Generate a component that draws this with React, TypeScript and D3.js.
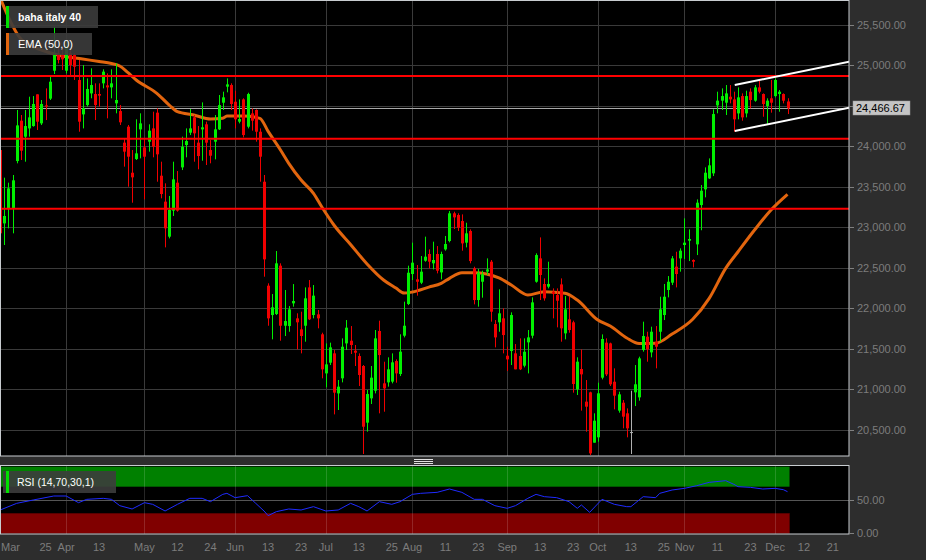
import React from 'react';
import * as d3 from 'd3';

// daily candles, trading-day index 0 = 10 Mar .. 191 = 6 Dec  [open, high, low, close]
const candles: number[][] = [
  [23951, 23972, 22779, 22923], [23046, 23610, 22779, 23137], [23231, 23548, 22985, 23478], [23231, 23643, 22923, 23577],
  [23815, 24445, 23787, 24255], [24313, 24383, 23828, 23943], [24116, 24445, 23807, 24247], [24218, 24609, 24116, 24354],
  [24247, 24617, 24239, 24519], [24638, 24638, 24198, 24301], [24280, 24568, 24260, 24519], [24502, 24712, 24321, 24486],
  [24585, 24856, 24568, 24794], [24930, 25473, 24889, 25123], [25144, 25226, 25020, 25062], [25123, 25226, 24938, 25070],
  [24930, 25308, 24897, 25226], [25144, 25206, 24877, 25000], [25123, 25144, 24815, 24979], [24815, 25062, 24177, 24301],
  [24391, 25000, 24218, 24465], [24506, 24835, 24486, 24704], [24650, 24959, 24589, 24753], [24642, 24774, 24321, 24506],
  [24642, 24774, 24486, 24622], [24774, 24947, 24712, 24918], [24749, 24897, 24342, 24724], [24724, 24947, 24589, 24774],
  [24527, 25020, 24404, 24568], [24432, 24506, 24260, 24293], [24042, 24095, 23746, 23931], [24239, 24260, 23499, 23869],
  [23671, 23951, 23301, 23614], [23840, 24330, 23828, 23910], [24206, 24404, 23848, 24280], [23984, 24095, 23342, 23869],
  [24054, 24268, 23931, 24190], [24218, 24424, 23861, 23992], [24412, 24465, 23560, 23898], [23634, 23807, 23355, 23408],
  [23314, 23540, 22750, 22985], [22882, 23384, 22861, 23211], [23203, 23807, 23137, 23589], [23548, 23692, 23190, 23203],
  [23737, 24116, 23704, 23992], [24013, 24218, 23861, 24062], [24165, 24457, 24136, 24218], [24354, 24383, 23807, 24157],
  [24042, 24247, 23713, 23877], [24206, 24539, 23819, 24231], [24268, 24301, 23766, 24042], [23951, 24074, 23787, 23881],
  [24054, 24383, 23836, 24206], [24206, 24630, 24198, 24506], [24535, 24671, 24445, 24601], [24733, 24835, 24663, 24761],
  [24753, 24774, 24445, 24519], [24547, 24683, 24218, 24330], [24301, 24576, 24280, 24334], [24576, 24589, 24107, 24136],
  [24239, 24658, 24218, 24642], [24403, 24465, 24190, 24313], [24445, 24453, 24054, 24177], [24177, 24218, 23560, 23869],
  [23560, 23643, 22388, 22602], [22277, 22306, 21783, 21874], [21915, 22174, 21615, 22010], [21927, 22705, 21915, 22553],
  [22524, 22553, 21598, 21783], [21783, 22224, 21656, 21841], [21779, 22026, 21709, 21985], [22059, 22297, 22018, 22088],
  [21874, 21936, 21491, 21825], [21738, 21956, 21442, 21656], [21783, 22256, 21586, 22121], [22256, 22347, 21853, 21862],
  [21915, 22285, 21874, 22154], [21923, 21977, 21751, 21874], [21677, 21697, 21134, 21245], [21195, 21565, 21023, 21306],
  [21327, 21574, 21298, 21516], [21442, 21483, 20689, 20957], [20948, 21113, 20743, 21031], [21134, 21627, 21084, 21524],
  [21565, 21853, 21483, 21759], [21598, 21779, 21434, 21545], [21475, 21545, 21286, 21450], [21409, 21442, 21039, 21175],
  [21286, 21298, 20200, 20537], [20587, 20990, 20476, 20940], [20887, 21286, 20817, 21142], [20981, 21730, 20948, 21627],
  [21718, 21845, 20702, 21421], [21072, 21339, 20722, 21010], [21084, 21393, 21031, 21245], [21093, 21442, 21072, 21331],
  [21347, 21368, 21080, 21195], [21187, 21677, 21162, 21463], [21660, 22080, 21639, 21783], [22051, 22524, 22038, 22437],
  [22421, 22808, 22347, 22561], [22355, 22532, 22154, 22326], [22314, 22643, 22297, 22450], [22585, 22882, 22573, 22635],
  [22668, 22725, 22491, 22573], [22553, 22820, 22478, 22594], [22668, 22766, 22429, 22462], [22441, 22697, 22355, 22668],
  [22725, 22890, 22709, 22791], [22828, 23198, 22812, 23170], [23170, 23190, 22976, 23120], [23149, 23170, 22952, 22993],
  [23075, 23157, 22709, 22799], [22808, 23054, 22750, 22923], [22952, 22972, 22553, 22581], [22491, 22511, 22047, 22100],
  [22100, 22483, 22018, 22437], [22326, 22462, 22129, 22417], [22450, 22614, 22409, 22478], [22573, 22594, 21833, 21956],
  [21804, 21853, 21516, 21639], [21825, 22232, 21709, 21936], [21874, 21997, 21442, 21668], [21413, 21524, 21224, 21368],
  [21471, 21948, 21298, 21915], [21442, 21557, 21245, 21245], [21409, 21627, 21236, 21245], [21290, 21627, 21269, 21462],
  [21578, 21730, 21195, 21639], [21660, 22133, 21627, 22071], [22326, 22676, 22314, 22655], [22614, 22873, 22100, 22409],
  [22298, 22367, 22092, 22121], [22265, 22573, 22244, 22298], [22203, 22244, 21874, 22174], [22162, 22244, 21763, 22092],
  [22293, 22367, 21586, 21751], [21689, 22149, 21615, 21985], [21862, 22141, 21697, 21730], [21825, 21845, 20957, 21064],
  [20998, 21393, 20928, 21339], [21249, 21491, 20735, 21183], [20846, 21113, 20475, 20784], [20961, 20969, 20188, 20208],
  [20340, 20702, 20340, 20611], [20406, 21080, 20352, 20949], [21142, 21676, 21121, 21619], [21574, 21627, 21162, 21183],
  [21565, 21574, 21039, 21060], [21092, 21257, 20751, 20920], [20735, 20969, 20710, 20936], [20833, 20866, 20517, 20661],
  [20702, 20763, 20406, 20517], [20471, 20981, 20200, 20471], [20961, 21298, 20792, 21060], [20899, 21401, 20858, 21380],
  [21483, 21833, 21463, 21656], [21648, 21709, 21339, 21491], [21454, 21771, 21393, 21709], [21586, 21779, 21257, 21524],
  [21709, 22141, 21586, 21985], [21915, 22298, 21853, 22141], [22224, 22396, 22133, 22326], [22314, 22643, 22285, 22614],
  [22512, 22696, 22256, 22421], [22614, 22738, 22450, 22709], [22779, 23108, 22606, 22808], [22832, 22972, 22581, 22853],
  [22594, 22602, 22503, 22573], [22787, 23342, 22655, 23301], [23272, 23519, 22961, 23449], [23466, 23737, 23367, 23671],
  [23601, 23848, 23593, 23762], [23663, 24453, 23630, 24395], [24502, 24671, 24404, 24560], [24560, 24712, 24445, 24617],
  [24535, 24753, 24383, 24650], [24609, 24753, 24527, 24576], [24576, 24671, 24177, 24330], [24403, 24724, 24330, 24601],
  [24617, 24650, 24313, 24354], [24403, 24683, 24354, 24617], [24671, 24712, 24465, 24568], [24560, 24753, 24547, 24724],
  [24724, 24807, 24650, 24671], [24642, 24650, 24362, 24519], [24494, 24589, 24272, 24560], [24589, 24815, 24412, 24535],
  [24617, 24835, 24601, 24815], [24642, 24692, 24424, 24671], [24642, 24650, 24527, 24560], [24550, 24590, 24395, 24466.67],
];

// EMA(50)
const emaIdx = [0, 2, 4, 5, 7, 10, 14, 20, 24, 27, 29, 31, 33, 38, 41, 43, 47, 51, 54, 55, 59, 63, 65, 68, 70, 73, 76, 78, 81, 85, 89, 93, 96, 98, 100, 104, 107, 109, 112, 115, 118, 121, 124, 128, 132, 137, 140, 145, 148, 152, 155, 159, 163, 168, 172, 176, 179, 183, 187, 191];
const emaVal = [25827, 25592, 25395, 25321, 25247, 25185, 25123, 25074, 25043, 25018, 24988, 24905, 24815, 24651, 24506, 24424, 24383, 24334, 24342, 24371, 24371, 24342, 24181, 23951, 23787, 23581, 23417, 23251, 23023, 22786, 22545, 22347, 22248, 22186, 22199, 22260, 22306, 22368, 22437, 22437, 22421, 22372, 22285, 22162, 22203, 22183, 22100, 21853, 21779, 21631, 21563, 21566, 21680, 21862, 22121, 22491, 22696, 22964, 23211, 23404];

// RSI(14)
const rsiIdx = [0, 4, 8, 13, 16, 19, 21, 25, 27, 29, 32, 35, 37, 40, 43, 46, 49, 51, 54, 55, 57, 60, 62, 64, 65, 67, 70, 73, 76, 79, 82, 85, 87, 89, 92, 95, 97, 100, 102, 106, 109, 112, 115, 117, 120, 123, 125, 128, 130, 132, 135, 138, 140, 141, 143, 146, 149, 152, 153, 156, 159, 160, 163, 166, 169, 172, 176, 178, 179, 182, 185, 188, 190, 191];
const rsiVal = [35, 45, 50, 56, 56, 46, 51, 52.5, 51, 41.5, 36.5, 46, 43.5, 33.5, 43.5, 52.5, 52.5, 47.5, 58.5, 60, 53.5, 56.5, 45, 33.5, 26.5, 32.5, 36.5, 35, 40, 33.5, 35, 45, 40, 33.5, 47.5, 43.5, 47.5, 58.5, 60, 61.5, 66.5, 61.5, 51, 51, 41.5, 37.5, 41.5, 52.5, 58.5, 55, 53.5, 47.5, 37.5, 42.5, 31.5, 51, 43.5, 40, 40, 55, 53.5, 60, 65, 67.5, 71.5, 76.5, 79, 73.5, 70, 69, 66.5, 67.5, 65.5, 62.5];

const levels = [24864, 24090, 23227];
const upperChannel = [[178.2, 24753], [206, 25041]];
const lowerChannel = [[178.2, 24186], [206, 24473]];
const lastPrice = 24466.67;

const priceTicks = [20500, 21000, 21500, 22000, 22500, 23000, 23500, 24000, 24500, 25000, 25500];
const rsiTicks = [0, 50];
const monthIdx = [16, 35, 57, 79, 100, 123, 145, 166, 188];
const xTickIdx = [11, 16, 24, 35, 43, 51, 57, 65, 73, 79, 87, 95, 100, 108, 116, 123, 131, 139, 145, 153, 161, 166, 174, 182, 188, 195, 202];
const xTickLabels = ['25', 'Apr', '13', 'May', '12', '24', 'Jun', '13', '23', 'Jul', '13', '25', 'Aug', '11', '23', 'Sep', '13', '23', 'Oct', '13', '25', 'Nov', '11', '23', 'Dec', '12', '21'];

const PW = 849;
const MAIN_B = 456;
const FONT = "'Liberation Sans', Arial, sans-serif";

export default function App() {
  const x = d3.scaleLinear().domain([0, 206]).range([0.2, 0.2 + 206 * 4.122]);
  const y = d3.scaleLinear().domain([20500, 25500]).range([429.7, 24.5]);
  const ry = d3.scaleLinear().domain([0, 100]).range([533.3, 466.7]);

  const emaLine = d3.line<number>().x((_, i) => x(emaIdx[i])).y(d => y(d)).curve(d3.curveMonotoneX);
  const rsiLine = d3.line<number>().x((_, i) => x(rsiIdx[i])).y(d => ry(d));
  const seg = d3.line<number[]>().x(d => x(d[0])).y(d => y(d[1]));

  const lastX = x(candles.length - 1) + 2;
  // the live price tag hides the 24,500 label
  const labelTicks = priceTicks.filter(p => Math.abs(y(p) - y(lastPrice)) > 10);

  return (
    <svg width={926} height={560} style={{position: 'absolute', left: 0, top: 0}} fontFamily={FONT}>
      <defs>
        <clipPath id="mainClip"><rect x={0} y={0} width={PW} height={MAIN_B} /></clipPath>
      </defs>
      <rect width={926} height={560} fill="#2d2d2d" />
      {/* main panel */}
      <rect x={0} y={0} width={PW} height={MAIN_B} fill="#000" />
      {priceTicks.map(p => (
        <line key={p} x1={0} x2={PW} y1={Math.round(y(p)) + 0.5} y2={Math.round(y(p)) + 0.5} stroke="#3a3a3a" />
      ))}
      {monthIdx.map(i => (
        <line key={i} x1={Math.round(x(i)) + 0.5} x2={Math.round(x(i)) + 0.5} y1={0} y2={MAIN_B} stroke="#3a3a3a" />
      ))}
      <line x1={0} x2={PW} y1={Math.round(y(lastPrice)) + 0.5} y2={Math.round(y(lastPrice)) + 0.5} stroke="#a8a8a8" />
      <g clipPath="url(#mainClip)">
        <path d={emaLine(emaVal) || ''} fill="none" stroke="#e2650e" strokeWidth={3} />
        {candles.map((c, i) => {
          const [o, h, l, cl] = c;
          const cx = Math.round(x(i));
          const col = cl > o ? '#00f000' : cl < o ? '#f00000' : '#b0b0b0';
          const top = y(Math.max(o, cl));
          const hgt = Math.max(1, Math.abs(y(o) - y(cl)));
          return (
            <g key={i}>
              <line x1={cx + 0.5} x2={cx + 0.5} y1={y(h)} y2={y(l)} stroke={col} />
              <rect x={cx - 1} y={top} width={3} height={hgt} fill={col} />
            </g>
          );
        })}
        {levels.map(p => (
          <line key={p} x1={0} x2={PW} y1={y(p)} y2={y(p)} stroke="#ff0000" strokeWidth={2} />
        ))}
        <path d={seg(upperChannel) || ''} stroke="#fff" strokeWidth={2} fill="none" />
        <path d={seg(lowerChannel) || ''} stroke="#fff" strokeWidth={2} fill="none" />
      </g>
      <rect x={0.5} y={0.5} width={PW - 0.5} height={MAIN_B - 0.5} fill="none" stroke="#c8ccd0" />

      {/* legends */}
      <rect x={6} y={6} width={92} height={22} fill="#3c3c3c" opacity={0.9} />
      <rect x={6} y={6} width={3} height={22} fill="#00e000" />
      <text x={18} y={21} fill="#fff" fontSize={10.5} fontWeight="bold">baha italy 40</text>
      <rect x={6} y={33} width={86} height={22} fill="#3c3c3c" opacity={0.9} />
      <rect x={6} y={33} width={3} height={22} fill="#e2650e" />
      <text x={18} y={48} fill="#fff" fontSize={11}>EMA (50,0)</text>

      {/* price axis */}
      {priceTicks.map(p => (
        <line key={p} x1={PW} x2={PW + 5} y1={Math.round(y(p)) + 0.5} y2={Math.round(y(p)) + 0.5} stroke="#808080" />
      ))}
      {labelTicks.map(p => (
        <text key={p} x={857} y={y(p) + 4} fill="#7c7c7c" fontSize={11}>{d3.format(',.2f')(p)}</text>
      ))}
      <rect x={853} y={101} width={57} height={14} fill="#c4c4c4" stroke="#9a9a9a" strokeWidth={0.5} />
      <text x={856} y={112} fill="#000" fontSize={11}>{d3.format(',.2f')(lastPrice)}</text>

      {/* divider handle */}
      {[459.5, 461.5, 463.5].map(v => (
        <line key={v} x1={414} x2={433} y1={v} y2={v} stroke="#e0e0e0" />
      ))}

      {/* RSI panel */}
      <rect x={0} y={466} width={PW} height={68} fill="#000" />
      <rect x={0} y={ry(100)} width={lastX} height={ry(70) - ry(100)} fill="#008000" />
      <rect x={0} y={ry(30)} width={lastX} height={ry(0) - ry(30)} fill="#800000" stroke="#5a0000" strokeWidth={0.5} />
      {monthIdx.map(i => (
        <line key={i} x1={Math.round(x(i)) + 0.5} x2={Math.round(x(i)) + 0.5} y1={466} y2={534} stroke="#ffffff" strokeOpacity={0.15} />
      ))}
      <line x1={0} x2={PW} y1={Math.round(ry(50)) + 0.5} y2={Math.round(ry(50)) + 0.5} stroke="#555" />
      <path d={rsiLine(rsiVal) || ''} fill="none" stroke="#1f2bff" strokeWidth={1} />
      <rect x={0.5} y={465.5} width={PW - 0.5} height={68.5} fill="none" stroke="#c8ccd0" />
      <rect x={3} y={471} width={113} height={22} fill="#3c3c3c" opacity={0.9} />
      <rect x={6} y={471} width={3} height={22} fill="#00e000" />
      <text x={17} y={486} fill="#fff" fontSize={10.5}>RSI (14,70,30,1)</text>
      {rsiTicks.map(v => (
        <g key={v}>
          <line x1={PW} x2={PW + 5} y1={Math.round(ry(v)) + 0.5} y2={Math.round(ry(v)) + 0.5} stroke="#808080" />
          <text x={857} y={ry(v) + 4} fill="#7c7c7c" fontSize={11}>{d3.format('.2f')(v)}</text>
        </g>
      ))}

      {/* time axis */}
      <text x={1} y={551} fill="#7c7c7c" fontSize={11}>Mar</text>
      {xTickIdx.map((i, k) => (
        <text key={k} x={x(i)} y={551} fill="#7c7c7c" fontSize={11} textAnchor="middle">{xTickLabels[k]}</text>
      ))}
    </svg>
  );
}
